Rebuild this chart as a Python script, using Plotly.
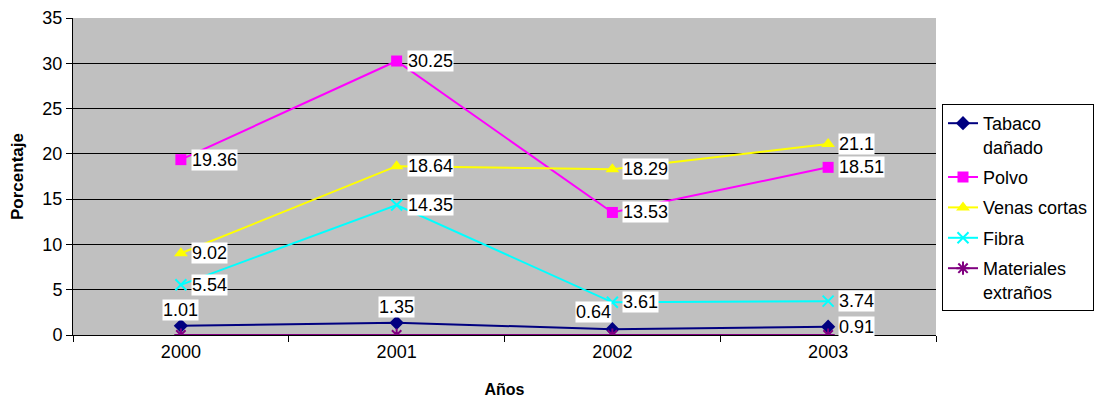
import plotly.graph_objects as go

years = ["2000", "2001", "2002", "2003"]
tabaco = [1.01, 1.35, 0.64, 0.91]
polvo = [19.36, 30.25, 13.53, 18.51]
venas = [9.02, 18.64, 18.29, 21.1]
fibra = [5.54, 14.35, 3.61, 3.74]
materiales = [0, 0, 0, 0]

series = [
    ("Tabaco<br>dañado", tabaco, "#000080", "diamond", 11),
    ("Polvo", polvo, "#FF00FF", "square", 11),
    ("Venas cortas", venas, "#FFFF00", "triangle-up", 12),
    ("Fibra", fibra, "#00FFFF", "x-thin", 11),
    ("Materiales<br>extraños", materiales, "#800080", "asterisk", 11),
]

FONT = "Arial, Liberation Sans, sans-serif"

fig = go.Figure()
for k, (name, vals, color, sym, size) in enumerate(series):
    thin = sym in ("x-thin", "asterisk")
    fig.add_trace(go.Scatter(
        x=years, y=vals, name=name, mode="lines+markers",
        legendgroup=f"g{k}",
        line=dict(color=color, width=2),
        marker=dict(symbol=sym, size=size, color=color,
                    line=dict(color=color, width=2 if thin else 0)),
    ))

# data labels (placement per point)
label_pos = {
    "tabaco": ["top", "top", "topleft", "right"],
    "polvo": ["right"] * 4,
    "venas": ["right"] * 4,
    "fibra": ["right"] * 4,
}
data_for = {"tabaco": tabaco, "polvo": polvo, "venas": venas, "fibra": fibra}
for key, vals in data_for.items():
    for i, v in enumerate(vals):
        pos = label_pos[key][i]
        a = dict(x=i, y=v, xref="x", yref="y", text=f"{v:g}", showarrow=False,
                 bgcolor="white", borderpad=0,
                 font=dict(family=FONT, size=18, color="black"))
        if pos == "right":
            a.update(xanchor="left", yanchor="middle", xshift=10, yshift=0)
        elif pos == "top":
            a.update(xanchor="center", yanchor="bottom", yshift=5)
        elif pos == "topleft":
            a.update(xanchor="right", yanchor="bottom", yshift=6, xshift=0)
        fig.add_annotation(**a)

fig.update_layout(
    width=1098, height=398,
    margin=dict(l=73, r=162, t=18, b=63),
    paper_bgcolor="white",
    plot_bgcolor="#C0C0C0",
    font=dict(family=FONT, size=18, color="black"),
    showlegend=True,
    legend=dict(
        xref="container", yref="container",
        x=942 / 1098, xanchor="left", y=1 - 104 / 398, yanchor="top",
        maxheight=390,
        bordercolor="black", borderwidth=1, bgcolor="white",
        font=dict(family=FONT, size=18), valign="top",
        traceorder="grouped", tracegroupgap=4,
        itemwidth=30,
    ),
    xaxis=dict(
        type="category", range=[-0.5, 3.5], tickson="boundaries",
        showline=True, linecolor="black", linewidth=1,
        ticks="outside", ticklen=6, tickcolor="black",
        showgrid=False, automargin=False,
        title=dict(text="<b>Años</b>", font=dict(size=16), standoff=24),
        tickfont=dict(size=18),
    ),
    yaxis=dict(
        range=[0, 35], dtick=5, showline=True, linecolor="black", linewidth=1,
        ticks="outside", ticklen=6, tickcolor="black",
        showgrid=True, gridcolor="black", gridwidth=1,
        zeroline=False, automargin=False,
        title=dict(text="<b>Porcentaje</b>", font=dict(size=17), standoff=14),
        tickfont=dict(size=18),
    ),
)

fig.write_html("out.html", config={"displayModeBar": False},
               post_script="document.body.style.margin='0';")
